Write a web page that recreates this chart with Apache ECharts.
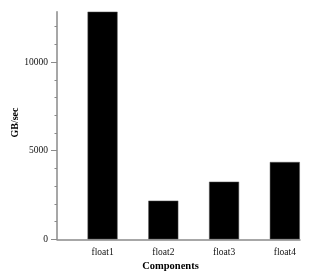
<!DOCTYPE html>
<html><head><meta charset="utf-8">
<script src="https://cdn.jsdelivr.net/npm/echarts@6/dist/echarts.min.js"></script>
<style>html,body{margin:0;padding:0;background:#fff}#c{width:320px;height:280px}</style>
</head><body><div id="c"></div>
<script>
var categories = ['float1', 'float2', 'float3', 'float4'];
var values = [12840, 2180, 3250, 4360];
var yMajorTicks = [0, 5000, 10000];
var yMinorTicks = [1000, 2000, 3000, 4000, 6000, 7000, 8000, 9000, 11000, 12000];
var yMax = 12840;
var xName = 'Components';
var yName = 'GB/sec';

// category i sits at position i + 0.75 on a 0..4 scale
var catPos = categories.map(function (c, i) { return i + 0.75; });
var font = 'Liberation Serif';
var axisGray = '#8a8a8a';

var chart = echarts.init(document.getElementById('c'), null, {renderer: 'canvas'});
chart.setOption({
  animation: false,
  backgroundColor: '#fff',
  grid: {left: 57, right: 20, top: 11.7, bottom: 40.7, containLabel: false, outerBoundsMode: 'none'},
  xAxis: {
    type: 'value', min: 0, max: 4,
    name: xName, nameLocation: 'middle', nameGap: 21, nameMoveOverlap: false,
    nameTextStyle: {fontFamily: font, fontWeight: 'bold', fontSize: 10.5, color: '#000', padding: [0, 16, 0, 0]},
    axisLine: {show: true, lineStyle: {color: axisGray, width: 1.5}},
    axisTick: {show: false},
    splitLine: {show: false},
    axisLabel: {
      customValues: catPos, margin: 8,
      fontFamily: font, fontSize: 9.5, color: '#111',
      formatter: function (v) {
        var i = catPos.indexOf(v);
        return i >= 0 ? categories[i] : '';
      }
    }
  },
  yAxis: [{
    type: 'value', min: 0, max: yMax,
    name: yName, nameLocation: 'middle', nameGap: 37, nameRotate: 90, nameMoveOverlap: false,
    nameTextStyle: {fontFamily: font, fontWeight: 'bold', fontSize: 10, color: '#000', padding: [0, 0, 0, 6]},
    axisLine: {show: true, lineStyle: {color: axisGray, width: 1.5}},
    axisTick: {show: true, customValues: yMajorTicks, length: 6, lineStyle: {color: axisGray, width: 1}},
    splitLine: {show: false},
    axisLabel: {customValues: yMajorTicks, margin: 9, fontFamily: font, fontSize: 9.5, color: '#111',
      formatter: function (v) { return String(v); }}
  }, {
    type: 'value', min: 0, max: yMax, position: 'left',
    axisLine: {show: false},
    axisTick: {show: true, customValues: yMinorTicks, length: 2.5, lineStyle: {color: axisGray, width: 1}},
    axisLabel: {show: false},
    splitLine: {show: false}
  }],
  series: [{
    type: 'bar',
    barWidth: 30,
    itemStyle: {color: '#000', borderColor: '#555', borderWidth: 0.5},
    data: categories.map(function (c, i) { return [catPos[i], values[i]]; })
  }]
});
</script>
</body></html>
